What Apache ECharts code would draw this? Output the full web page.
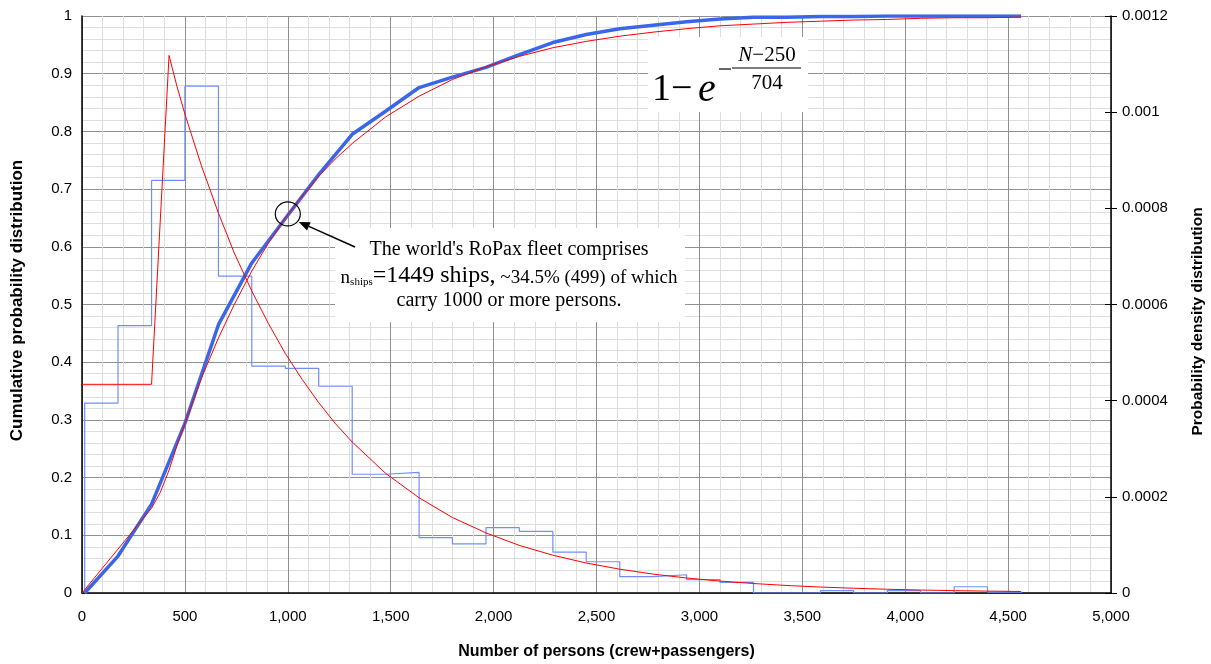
<!DOCTYPE html>
<html>
<head>
<meta charset="utf-8">
<script src="https://cdn.jsdelivr.net/npm/echarts@6/dist/echarts.min.js"></script>
<style>
html,body{margin:0;padding:0;background:#fff;}
#chart{width:1211px;height:664px;}
</style>
</head>
<body>
<div id="chart"></div>
<script>
// ---- data ----
// histogram bin edges (number of persons)
const binEdges = [13, 175, 338, 500, 663, 825, 988, 1150, 1313, 1475, 1638, 1800, 1963, 2125, 2288, 2450, 2613, 2775, 2938, 3100, 3263, 3425, 3588, 3750, 3913, 4075, 4238, 4400, 4563];
// empirical probability density per bin (right axis)
const pdfHist = [0.000395, 0.000556, 0.000858, 0.001054, 0.000659, 0.000472, 0.000467, 0.000430, 0.000247, 0.000251, 0.000115, 0.000102, 0.000136, 0.000128, 0.000085, 0.000065, 0.000034, 0.000038, 0.000028, 0.000022, 0, 0, 0.000005, 0, 0.000005, 0, 0.000013, 0.000002];
// empirical cumulative distribution at the bin edges (left axis)
const cdfEmpirical = [0, 0.064, 0.154, 0.294, 0.465, 0.572, 0.649, 0.725, 0.795, 0.835, 0.876, 0.894, 0.911, 0.933, 0.954, 0.968, 0.978, 0.984, 0.990, 0.995, 0.998, 0.998, 0.999, 0.999, 1.0, 1.0, 1.0, 1.0, 1.0];
// fitted density: flat part + ramp
const fitRampX = [0, 338, 423];
const fitRampPdf = [0.000434, 0.000434, 0.001118];
// fitted density: exponential tail
const fitTailX = [423, 460, 500, 580, 663, 740, 825, 905, 988, 1070, 1150, 1230, 1313, 1475, 1638, 1800, 1963, 2125, 2288, 2450, 2613, 2775, 2938, 3100, 3263, 3425, 3588, 3750, 3913, 4075, 4238, 4400, 4563];
const fitTailPdf = [0.001118, 0.001056, 0.000996, 0.000889, 0.000790, 0.000707, 0.000628, 0.000561, 0.000498, 0.000444, 0.000396, 0.000353, 0.000314, 0.000249, 0.000198, 0.000157, 0.000125, 0.0000990, 0.0000786, 0.0000624, 0.0000495, 0.0000393, 0.0000312, 0.0000248, 0.0000197, 0.0000156, 0.0000124, 0.0000099, 0.0000078, 0.0000062, 0.0000049, 0.0000039, 0.0000031];
// fitted cumulative distribution
const fitCdfX = [0, 338, 380, 423, 460, 500, 580, 663, 740, 825, 905, 988, 1070, 1150, 1230, 1313, 1475, 1638, 1800, 1963, 2125, 2288, 2450, 2613, 2775, 2938, 3100, 3263, 3425, 3588, 3750, 3913, 4075, 4238, 4400, 4563];
const fitCdf = [0, 0.147, 0.174, 0.213, 0.254, 0.294, 0.372, 0.442, 0.500, 0.558, 0.606, 0.650, 0.688, 0.722, 0.752, 0.779, 0.825, 0.861, 0.890, 0.912, 0.930, 0.945, 0.956, 0.965, 0.972, 0.978, 0.983, 0.986, 0.989, 0.991, 0.993, 0.994, 0.996, 0.997, 0.997, 0.998];
// axis ticks
const xTicks = {min: 0, max: 5000, interval: 500};
const yLeftTicks = {min: 0, max: 1, interval: 0.1};
const yRightTicks = {min: 0, max: 0.0012, interval: 0.0002};
const annotationLines = ["The world's RoPax fleet comprises", "carry 1000 or more persons."];
const highlightPoint = [1000, 0.657];

// ---- build series data ----
const histStep = [[binEdges[0], 0]];
for (let i = 0; i < pdfHist.length; i++) {
  histStep.push([binEdges[i], pdfHist[i]]);
  histStep.push([binEdges[i + 1], pdfHist[i]]);
}
histStep.push([binEdges[binEdges.length - 1], 0]);
const zip = (xs, ys) => xs.map((x, i) => [x, ys[i]]);

const FONT = "'Liberation Sans', Arial, sans-serif";
const SERIF = "'Liberation Serif', 'Times New Roman', serif";

const chart = echarts.init(document.getElementById('chart'), null, {renderer: 'canvas'});
const option = {
  animation: false,
  backgroundColor: '#fff',
  grid: {left: 82, right: 100, top: 16, bottom: 71, containLabel: false, outerBoundsMode: 'none'},
  xAxis: {
    type: 'value', min: xTicks.min, max: xTicks.max, interval: xTicks.interval,
    name: 'Number of persons (crew+passengers)', nameLocation: 'middle', nameGap: 51,
    nameTextStyle: {fontFamily: FONT, fontWeight: 'bold', fontSize: 16, color: '#000', padding: [0, 0, 0, 20]},
    axisLine: {show: true, onZero: false, lineStyle: {color: '#000', width: 1.5}},
    axisTick: {show: false},
    axisLabel: {fontFamily: FONT, fontSize: 15, color: '#000', margin: 16,
      formatter: v => v.toLocaleString('en-US')},
    splitLine: {show: true, lineStyle: {color: '#909090', width: 1}},
    minorTick: {show: false, splitNumber: 5},
    minorSplitLine: {show: true, lineStyle: {color: '#dedede', width: 1}}
  },
  yAxis: [
    {
      type: 'value', min: yLeftTicks.min, max: yLeftTicks.max, interval: yLeftTicks.interval, position: 'left',
      name: 'Cumulative probability distribution', nameLocation: 'middle', nameGap: 56, nameRotate: 90,
      nameTextStyle: {fontFamily: FONT, fontWeight: 'bold', fontSize: 17, color: '#000', padding: [0, 0, 0, 8]},
      axisLine: {show: true, lineStyle: {color: '#000', width: 1.5}},
      axisTick: {show: false},
      axisLabel: {fontFamily: FONT, fontSize: 15, color: '#000', margin: 10},
      splitLine: {show: true, lineStyle: {color: '#909090', width: 1}},
      minorTick: {show: false, splitNumber: 5},
      minorSplitLine: {show: true, lineStyle: {color: '#dedede', width: 1}}
    },
    {
      type: 'value', min: yRightTicks.min, max: yRightTicks.max, interval: yRightTicks.interval, position: 'right',
      name: 'Probability density distribution', nameLocation: 'middle', nameGap: 79, nameRotate: 90,
      nameTextStyle: {fontFamily: FONT, fontWeight: 'bold', fontSize: 15.5, color: '#000', padding: [0, 34, 0, 0]},
      axisLine: {show: true, lineStyle: {color: '#000', width: 1.5}},
      axisTick: {show: true, length: 6, lineStyle: {color: '#000'}},
      axisLabel: {fontFamily: FONT, fontSize: 15, color: '#000', margin: 11},
      splitLine: {show: false}
    },
    {
      type: 'value', min: yRightTicks.min, max: yRightTicks.max, interval: yRightTicks.interval, position: 'right',
      axisLine: {show: false},
      axisTick: {show: true, inside: true, length: 6, lineStyle: {color: '#000'}},
      axisLabel: {show: false},
      splitLine: {show: false}
    }
  ],
  series: [
    {
      name: 'Histogram', type: 'line', yAxisIndex: 1, data: histStep, symbol: 'none',
      lineStyle: {color: '#6f8fff', width: 1.2}, z: 2
    },
    {
      name: 'Empirical CDF', type: 'line', yAxisIndex: 0, data: zip(binEdges, cdfEmpirical), symbol: 'none',
      lineStyle: {color: '#3a66e8', width: 3.5}, z: 3
    },
    {
      name: 'Fitted CDF', type: 'line', yAxisIndex: 0, data: zip(fitCdfX, fitCdf), symbol: 'none',
      lineStyle: {color: '#ff0000', width: 1}, z: 4
    },
    {
      name: 'Fitted PDF ramp', type: 'line', yAxisIndex: 1, data: zip(fitRampX, fitRampPdf), symbol: 'none',
      lineStyle: {color: '#ff0000', width: 1}, z: 4
    },
    {
      name: 'Fitted PDF tail', type: 'line', yAxisIndex: 1, data: zip(fitTailX, fitTailPdf), symbol: 'none',
      lineStyle: {color: '#ff0000', width: 1}, z: 4
    }
  ]
};
chart.setOption(option);

// ---- annotations ----
const c = chart.convertToPixel({xAxisIndex: 0, yAxisIndex: 0}, highlightPoint);
const tail = [355, 247];
const tip = [c[0] + 11, c[1] + 8];
const dx = tip[0] - tail[0], dy = tip[1] - tail[1];
const len = Math.hypot(dx, dy);
const ux = dx / len, uy = dy / len;
const headL = 11, headW = 4.5;
const bx = tip[0] - ux * headL, by = tip[1] - uy * headL;
const cx0 = 509;

chart.setOption({
  graphic: [
    // formula box
    {type: 'rect', shape: {x: 648, y: 37, width: 160, height: 75}, style: {fill: '#fff'}, z: 50},
    {type: 'text', x: 652, y: 90, z: 51, style: {text: '1\u2212', font: '38px ' + SERIF, fill: '#000', textVerticalAlign: 'middle'}},
    {type: 'text', x: 698, y: 90, z: 51, style: {text: 'e', font: 'italic 40px ' + SERIF, fill: '#000', textVerticalAlign: 'middle'}},
    {type: 'line', shape: {x1: 719, y1: 69, x2: 731, y2: 69}, style: {stroke: '#000', lineWidth: 1.2}, z: 51},
    {type: 'line', shape: {x1: 732, y1: 68, x2: 801, y2: 68}, style: {stroke: '#000', lineWidth: 1.2}, z: 51},
    {type: 'text', x: 767, y: 55, z: 51, style: {
      text: '{i|N}{n|\u2212250}', textAlign: 'center', textVerticalAlign: 'middle',
      rich: {i: {font: 'italic 21px ' + SERIF, fill: '#000'}, n: {font: '21px ' + SERIF, fill: '#000'}}}},
    {type: 'text', x: 767, y: 83, z: 51, style: {text: '704', font: '21px ' + SERIF, fill: '#000', textAlign: 'center', textVerticalAlign: 'middle'}},
    // annotation box
    {type: 'rect', shape: {x: 335, y: 228, width: 350, height: 94}, style: {fill: '#fff'}, z: 50},
    {type: 'text', x: cx0, y: 250, z: 51, style: {text: annotationLines[0], font: '20px ' + SERIF, fill: '#000', textAlign: 'center', textVerticalAlign: 'middle'}},
    {type: 'text', x: cx0, y: 276, z: 51, style: {
      text: '{a|n}{s|ships}{b|=1449 ships,}{a| ~34.5% (499) of which}', textAlign: 'center', textVerticalAlign: 'middle',
      rich: {
        a: {font: '19px ' + SERIF, fill: '#000', verticalAlign: 'bottom'},
        s: {font: '11px ' + SERIF, fill: '#000', verticalAlign: 'bottom'},
        b: {font: '24px ' + SERIF, fill: '#000', verticalAlign: 'bottom'}
      }}},
    {type: 'text', x: cx0, y: 301, z: 51, style: {text: annotationLines[1], font: '20px ' + SERIF, fill: '#000', textAlign: 'center', textVerticalAlign: 'middle'}},
    // circle + arrow
    {type: 'ellipse', shape: {cx: c[0], cy: c[1], rx: 12.5, ry: 12}, style: {fill: 'none', stroke: '#000', lineWidth: 1.2}, z: 52},
    {type: 'line', shape: {x1: tail[0], y1: tail[1], x2: bx, y2: by}, style: {stroke: '#000', lineWidth: 1.5}, z: 52},
    {type: 'polygon', shape: {points: [[tip[0], tip[1]], [bx - uy * headW, by + ux * headW], [bx + uy * headW, by - ux * headW]]}, style: {fill: '#000'}, z: 52}
  ]
});
</script>
</body>
</html>
